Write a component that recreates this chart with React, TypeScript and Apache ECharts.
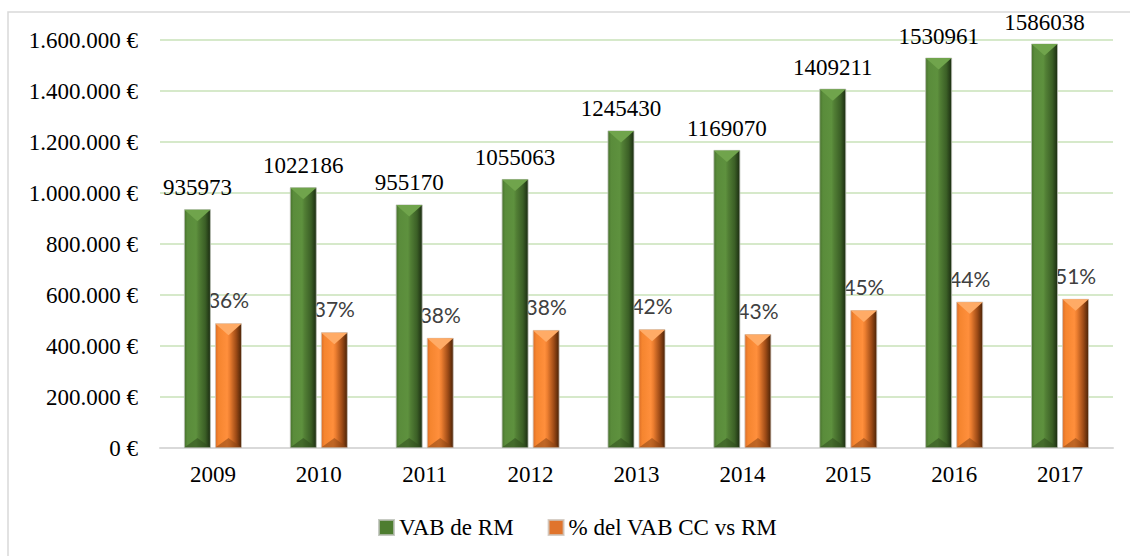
import React, { useEffect, useRef } from "react";
import * as echarts from "echarts";

const years = ["2009", "2010", "2011", "2012", "2013", "2014", "2015", "2016", "2017"];
const vabRM = [935973, 1022186, 955170, 1055063, 1245430, 1169070, 1409211, 1530961, 1586038];
const vabCC = [489000, 454000, 432000, 463000, 466000, 447000, 541000, 574000, 585000];
const pctLabels = [36, 37, 38, 38, 42, 43, 45, 44, 51];
const yTicks = { min: 0, max: 1600000, interval: 200000 };
const seriesNames = ["VAB de RM", "% del VAB CC vs RM"];

const BAR_W = 27;
const BAR_GAP = 0.15;

function fmtEuro(v: number): string {
  const s = Math.round(v).toString().replace(/\B(?=(\d{3})+(?!\d))/g, ".");
  return s + " €";
}

const greenGrad = {
  type: "linear", x: 0, y: 0, x2: 1, y2: 0,
  colorStops: [
    { offset: 0, color: "#47722c" },
    { offset: 0.12, color: "#5a8c3b" },
    { offset: 0.45, color: "#5e913e" },
    { offset: 0.55, color: "#527f35" },
    { offset: 0.8, color: "#3b5f26" },
    { offset: 1, color: "#1b2c11" },
  ],
};
const orangeGrad = {
  type: "linear", x: 0, y: 0, x2: 1, y2: 0,
  colorStops: [
    { offset: 0, color: "#dc6e27" },
    { offset: 0.12, color: "#f5852f" },
    { offset: 0.45, color: "#ff8f3c" },
    { offset: 0.55, color: "#ec7e30" },
    { offset: 0.8, color: "#9c4a16" },
    { offset: 1, color: "#4a2206" },
  ],
};

function makeOverlay(offsetSign: number, topColor: string, bottomColor: string) {
  return (params: any, api: any) => {
    const idx = api.value(0);
    const val = api.value(1);
    const top = api.coord([idx, val]);
    const base = api.coord([idx, 0]);
    const off = offsetSign * (BAR_W + BAR_W * BAR_GAP) / 2;
    const cx = top[0] + off;
    const h = BAR_W / 2 - 0.5;
    return {
      type: "group",
      children: [
        {
          type: "polygon",
          shape: { points: [[cx - h, top[1] + 0.5], [cx + h, top[1] + 0.5], [cx, top[1] + 12]] },
          style: { fill: topColor },
        },
        {
          type: "polygon",
          shape: { points: [[cx - h, base[1] - 0.5], [cx + h, base[1] - 0.5], [cx, base[1] - 10]] },
          style: { fill: bottomColor, opacity: 0.55 },
        },
      ],
    };
  };
}

export default function App() {
  const ref = useRef<HTMLDivElement>(null);
  useEffect(() => {
    if (!ref.current) return;
    const chart = echarts.init(ref.current, null, { renderer: "svg" });
    const serif = "'Liberation Serif', 'Times New Roman', serif";
    const sans = "Lato, 'Noto Sans', sans-serif";
    chart.setOption({
      animation: false,
      backgroundColor: "#ffffff",
      graphic: [
        {
          type: "rect",
          shape: { x: 8, y: 12, width: 1200, height: 600 },
          style: { fill: "none", stroke: "#d9d9d9", lineWidth: 1.5 },
          silent: true,
        },
      ],
      grid: { left: 160, right: 17, top: 40, bottom: 108, containLabel: false },
      legend: {
        left: 373,
        top: 511,
        itemWidth: 15,
        itemHeight: 15,
        itemGap: 34,
        icon: "rect",
        textStyle: { fontFamily: serif, fontSize: 23, color: "#000" },
        data: [
          { name: seriesNames[0], itemStyle: { color: "#4e7d30" } },
          { name: seriesNames[1], itemStyle: { color: "#e0742c" } },
        ],
      },
      xAxis: {
        type: "category",
        data: years,
        axisTick: { show: false },
        axisLine: { lineStyle: { color: "#d9d9d9", width: 2 } },
        axisLabel: { fontFamily: serif, fontSize: 23, color: "#000", margin: 15 },
      },
      yAxis: {
        type: "value",
        min: yTicks.min,
        max: yTicks.max,
        interval: yTicks.interval,
        axisLine: { show: false },
        axisTick: { show: false },
        splitLine: { lineStyle: { color: "#c8e2b8", width: 1.5 } },
        axisLabel: {
          fontFamily: serif, fontSize: 23, color: "#000", margin: 22,
          formatter: (v: number) => fmtEuro(v),
        },
      },
      series: [
        {
          name: seriesNames[0],
          type: "bar",
          z: 3,
          data: vabRM,
          barWidth: BAR_W,
          barGap: BAR_GAP * 100 + "%",
          itemStyle: { color: greenGrad, borderColor: "rgba(185,190,180,0.8)", borderWidth: 1 },
          label: {
            show: true, position: "top", distance: 10,
            fontFamily: serif, fontSize: 23, color: "#000",
          },
        },
        {
          name: seriesNames[1],
          type: "bar",
          z: 2,
          data: vabCC,
          barWidth: BAR_W,
          itemStyle: { color: orangeGrad, borderColor: "rgba(205,195,185,0.8)", borderWidth: 1 },
          label: {
            show: true, position: "top", distance: 13,
            fontFamily: sans, fontSize: 21, color: "#404040",
            formatter: (p: any) => pctLabels[p.dataIndex] + "%",
          },
        },
        {
          type: "custom",
          z: 4,
          silent: true,
          data: vabRM.map((v, i) => [i, v]),
          encode: { x: 0, y: 1 },
          renderItem: makeOverlay(-1, "#70a44c", "#2f4d1e"),
        },
        {
          type: "custom",
          z: 2.5,
          silent: true,
          data: vabCC.map((v, i) => [i, v]),
          encode: { x: 0, y: 1 },
          renderItem: makeOverlay(1, "#ffab66", "#8a4514"),
        },
      ],
    });
    return () => chart.dispose();
  }, []);
  return (
    <div
      ref={ref}
      style={{ position: "absolute", left: 0, top: 0, width: 1130, height: 556 }}
    />
  );
}
